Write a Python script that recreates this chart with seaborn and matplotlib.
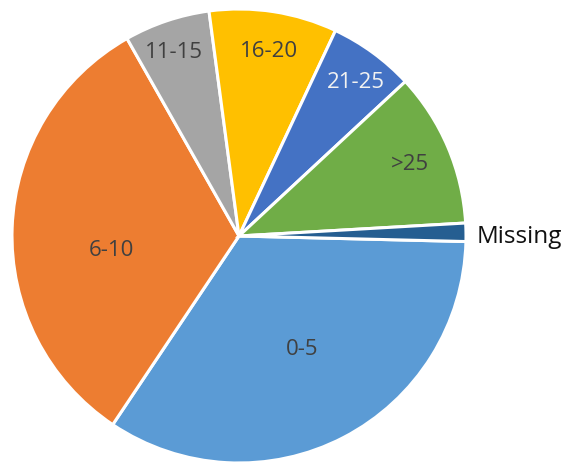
import numpy as np
import matplotlib
matplotlib.use("Agg")
import matplotlib.pyplot as plt
import seaborn as sns

sns.set_theme(style="white")
plt.rcParams["font.family"] = ["Open Sans", "DejaVu Sans"]

# Share of cases by category (percent)
categories = ["0-5", "6-10", "11-15", "16-20", "21-25", ">25", "Missing"]
shares = [34.0, 32.4, 6.1, 9.1, 6.1, 11.0, 1.3]
colors = ["#5B9BD5", "#ED7D31", "#A5A5A5", "#FFC000", "#4472C4", "#70AD47", "#255E91"]
label_colors = ["#404040", "#404040", "#404040", "#404040", "#F2F2F2", "#404040", "#111111"]
label_sizes = [16, 16, 16, 16, 16, 16, 17.5]

# label placement: (radial distance, angular nudge in degrees)
label_layout = [(0.57, 2), (0.567, 8), (0.862, 0.7), (0.826, -0.4), (0.853, -1), (0.82, 0), (1.045, -1)]

fig = plt.figure(figsize=(5.64, 4.64), dpi=100)
ax = fig.add_axes([0, 0, 1, 1])

wedges, texts = ax.pie(
    shares,
    labels=categories,
    colors=colors,
    startangle=-1.4,
    counterclock=False,
    radius=1.0,
    labeldistance=0.6,
    wedgeprops=dict(edgecolor="white", linewidth=2.2),
)

for w, t, (dist, nudge), c, s in zip(wedges, texts, label_layout, label_colors, label_sizes):
    mid = np.deg2rad((w.theta1 + w.theta2) / 2 + nudge)
    x, y = dist * np.cos(mid), dist * np.sin(mid)
    t.set_position((x, y))
    t.set_color(c)
    t.set_fontsize(s)
    t.set_ha("center")
    t.set_va("center")

# the small outer slice gets its label outside, left aligned
texts[-1].set_ha("left")

# map data units to pixels uniformly (≈227 px per unit)
ax.set_xlim(-239 / 227, (564 - 239) / 227)
ax.set_ylim(-(464 - 237) / 227, 237 / 227)
ax.set_aspect("auto")
ax.axis("off")

fig.savefig("out.png", dpi=100, facecolor="white")
